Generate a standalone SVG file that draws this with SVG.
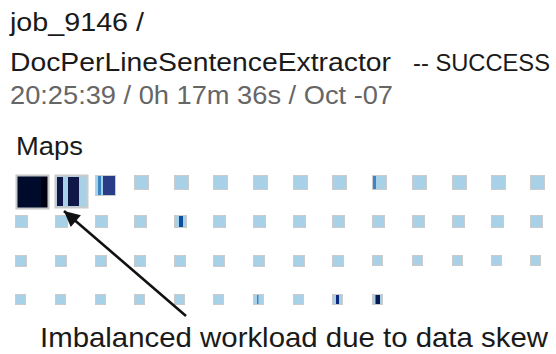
<svg xmlns="http://www.w3.org/2000/svg" width="556" height="354" viewBox="0 0 556 354">
<style>
.t{font-family:"Liberation Sans",Arial,sans-serif;fill:#1a1a1a}
.g{fill:#666}
.sq{fill:#a8d1e8;stroke:#cbcbcb;stroke-width:1}
.nv{fill:#101848}
.md{fill:#3d86c6}
.dk{fill:#0d2a80}
</style>
<defs>
<marker id="ah" viewBox="0 0 10 10" refX="10" refY="5" markerWidth="7" markerHeight="6" markerUnits="strokeWidth" orient="auto">
<path d="M0,0 L10,5 L0,10 z" fill="#111"/>
</marker>
</defs>
<g id="header">
<text class="t" x="10" y="31" font-size="26" textLength="134" lengthAdjust="spacingAndGlyphs">job_9146 /</text>
<text class="t" x="10" y="71" font-size="26" textLength="381" lengthAdjust="spacingAndGlyphs">DocPerLineSentenceExtractor</text>
<text class="t" x="413" y="71" font-size="24" textLength="137" lengthAdjust="spacingAndGlyphs">-- SUCCESS</text>
<text class="t g" x="10" y="104" font-size="26" textLength="383" lengthAdjust="spacingAndGlyphs">20:25:39 / 0h 17m 36s / Oct -07</text>
</g>
<g id="maps-label"><text class="t" x="16" y="155" font-size="26" textLength="67" lengthAdjust="spacingAndGlyphs">Maps</text></g>
<g id="row1">
<g id="m1"><rect x="16.5" y="175.5" width="32" height="33" fill="#000a2a" stroke="#c8c8c8" stroke-width="2"/><rect x="41" y="177" width="6" height="30" fill="#000010"/></g>
<g id="m2"><rect x="55.5" y="175.5" width="32" height="32" fill="#a8d1e8" stroke="#cbcbcb" stroke-width="2"/><rect x="57" y="177" width="6" height="29" class="nv"/><rect x="68" y="177" width="11" height="29" class="nv"/></g>
<g id="m3"><rect x="95.5" y="175.5" width="20" height="20" class="sq"/><rect x="98" y="176" width="3" height="19" class="md"/><rect x="103" y="176" width="12" height="19" fill="#2a3c86"/></g>
<g id="m4"><rect x="134.5" y="175.5" width="14" height="14" class="sq"/></g>
<g id="m5"><rect x="174.5" y="175.5" width="14" height="14" class="sq"/></g>
<g id="m6"><rect x="213.5" y="175.5" width="14" height="14" class="sq"/></g>
<g id="m7"><rect x="253.5" y="175.5" width="14" height="14" class="sq"/></g>
<g id="m8"><rect x="293.5" y="175.5" width="14" height="14" class="sq"/></g>
<g id="m9"><rect x="332.5" y="175.5" width="14" height="14" class="sq"/></g>
<g id="m10"><rect x="372.5" y="175.5" width="14" height="14" class="sq"/><rect x="373" y="176" width="3" height="13" class="md"/></g>
<g id="m11"><rect x="412.5" y="175.5" width="14" height="14" class="sq"/></g>
<g id="m12"><rect x="452.5" y="175.5" width="14" height="14" class="sq"/></g>
<g id="m13"><rect x="491.5" y="175.5" width="14" height="14" class="sq"/></g>
<g id="m14"><rect x="530.5" y="175.5" width="14" height="14" class="sq"/></g>
</g>
<g id="row2">
<g id="m15"><rect x="15.5" y="215.5" width="12" height="12" class="sq"/></g>
<g id="m16"><rect x="55.5" y="215.5" width="12" height="12" class="sq"/></g>
<g id="m17"><rect x="95.5" y="215.5" width="12" height="12" class="sq"/></g>
<g id="m18"><rect x="134.5" y="215.5" width="12" height="12" class="sq"/></g>
<g id="m19"><rect x="174.5" y="215.5" width="12" height="12" class="sq"/><rect x="179" y="216" width="4" height="11" fill="#0b4fa0"/></g>
<g id="m20"><rect x="213.5" y="215.5" width="12" height="12" class="sq"/></g>
<g id="m21"><rect x="253.5" y="215.5" width="12" height="12" class="sq"/></g>
<g id="m22"><rect x="293.5" y="215.5" width="12" height="12" class="sq"/></g>
<g id="m23"><rect x="332.5" y="215.5" width="12" height="12" class="sq"/></g>
<g id="m24"><rect x="372.5" y="215.5" width="12" height="12" class="sq"/></g>
<g id="m25"><rect x="412.5" y="215.5" width="12" height="12" class="sq"/></g>
<g id="m26"><rect x="452.5" y="215.5" width="12" height="12" class="sq"/></g>
<g id="m27"><rect x="491.5" y="215.5" width="12" height="12" class="sq"/></g>
<g id="m28"><rect x="530.5" y="215.5" width="12" height="12" class="sq"/></g>
</g>
<g id="row3">
<g id="m29"><rect x="15.5" y="255.5" width="11" height="11" class="sq"/></g>
<g id="m30"><rect x="55.5" y="255.5" width="11" height="11" class="sq"/></g>
<g id="m31"><rect x="95.5" y="255.5" width="11" height="11" class="sq"/></g>
<g id="m32"><rect x="134.5" y="255.5" width="11" height="11" class="sq"/></g>
<g id="m33"><rect x="174.5" y="255.5" width="11" height="11" class="sq"/></g>
<g id="m34"><rect x="213.5" y="255.5" width="11" height="11" class="sq"/></g>
<g id="m35"><rect x="253.5" y="255.5" width="11" height="11" class="sq"/></g>
<g id="m36"><rect x="293.5" y="255.5" width="11" height="11" class="sq"/></g>
<g id="m37"><rect x="332.5" y="255.5" width="11" height="11" class="sq"/></g>
<g id="m38"><rect x="372.5" y="255.5" width="10" height="10" class="sq"/></g>
<g id="m39"><rect x="412.5" y="255.5" width="10" height="10" class="sq"/></g>
<g id="m40"><rect x="452.5" y="255.5" width="10" height="10" class="sq"/></g>
<g id="m41"><rect x="491.5" y="255.5" width="10" height="10" class="sq"/></g>
<g id="m42"><rect x="530.5" y="255.5" width="10" height="10" class="sq"/></g>
</g>
<g id="row4">
<g id="m43"><rect x="15.5" y="294.5" width="10" height="10" class="sq"/></g>
<g id="m44"><rect x="55.5" y="294.5" width="10" height="10" class="sq"/></g>
<g id="m45"><rect x="95.5" y="294.5" width="10" height="10" class="sq"/></g>
<g id="m46"><rect x="134.5" y="294.5" width="10" height="10" class="sq"/></g>
<g id="m47"><rect x="174.5" y="294.5" width="10" height="10" class="sq"/></g>
<g id="m48"><rect x="213.5" y="294.5" width="10" height="10" class="sq"/></g>
<g id="m49"><rect x="253.5" y="294.5" width="10" height="10" class="sq"/><rect x="257" y="295" width="1.5" height="9" class="md"/></g>
<g id="m50"><rect x="293.5" y="294.5" width="10" height="10" class="sq"/></g>
<g id="m51"><rect x="332.5" y="294.5" width="10" height="10" class="sq"/><rect x="336" y="295" width="3" height="9" class="dk"/></g>
<g id="m52"><rect x="372.5" y="294.5" width="10" height="10" class="sq"/><rect x="375.5" y="295" width="4.5" height="9" fill="#0a1a50"/></g>
</g>
<g id="connectors">
<line x1="186" y1="316" x2="64" y2="211" stroke="#111" stroke-width="2.6" marker-end="url(#ah)"/>
</g>
<g id="annotation"><text class="t" x="40" y="347" font-size="28" textLength="508" lengthAdjust="spacingAndGlyphs">Imbalanced workload due to data skew</text></g>
</svg>
